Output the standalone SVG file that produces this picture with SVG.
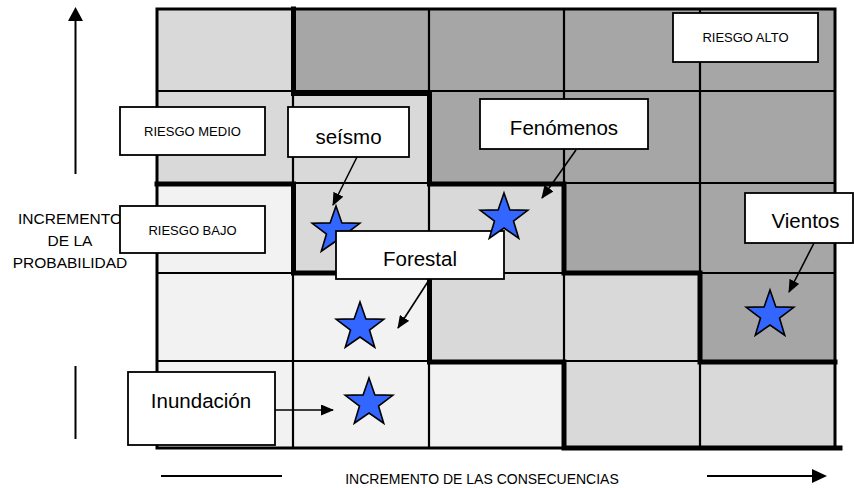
<svg xmlns="http://www.w3.org/2000/svg" xmlns:xlink="http://www.w3.org/1999/xlink" width="854" height="488" viewBox="0 0 854 488">
<style>
.l1{fill:#f2f2f2}.l2{fill:#d9d9d9}.l3{fill:#a6a6a6}
.thin{stroke:#000;stroke-width:2.2;fill:none}
.thick{stroke:#000;stroke-width:5;fill:none;stroke-linecap:square}
.box{fill:#fff;stroke:#000;stroke-width:1.8}
.t{font-family:"Liberation Sans",Arial,sans-serif;fill:#000;text-anchor:middle}
.s{font-size:13px}.b{font-size:20.5px}
.star{fill:#3366ff;stroke:#000;stroke-width:1.6;stroke-linejoin:miter}
.con{stroke:#000;stroke-width:1.6;fill:none}
.axis{stroke:#000;stroke-width:2;fill:none}
</style>
<defs>
<marker id="ah" markerUnits="userSpaceOnUse" markerWidth="13" markerHeight="11" refX="12" refY="5.5" orient="auto">
<path d="M0,0 L13,5.5 L0,11 z" fill="#000"/>
</marker>
<path id="star" d="M0,-25 L5.88,-8.09 L23.78,-7.73 L9.51,3.09 L14.7,20.23 L0,10 L-14.7,20.23 L-9.51,3.09 L-23.78,-7.73 L-5.88,-8.09 z"/>
</defs>
<rect width="854" height="488" fill="#fff"/>
<g id="grid">
<rect class="l2" x="157" y="9" width="136" height="82"/>
<rect class="l3" x="293" y="9" width="542" height="82"/>
<rect class="l2" x="157" y="91" width="272" height="92"/>
<rect class="l3" x="429" y="91" width="406" height="92"/>
<rect class="l1" x="157" y="183" width="136" height="90"/>
<rect class="l2" x="293" y="183" width="271" height="90"/>
<rect class="l3" x="564" y="183" width="271" height="90"/>
<rect class="l1" x="157" y="273" width="272" height="88"/>
<rect class="l2" x="429" y="273" width="271" height="88"/>
<rect class="l3" x="700" y="273" width="135" height="88"/>
<rect class="l1" x="157" y="361" width="407" height="87"/>
<rect class="l2" x="564" y="361" width="271" height="87"/>
<path class="thin" d="M293,9V448M429,9V448M564,9V448M700,9V448M157,91H835M157,183H835M157,273H835M157,361H835"/>
<rect x="157" y="9" width="678" height="439" fill="none" stroke="#000" stroke-width="3"/>
<path class="thick" d="M293.5,9V93.5H429.5V184H564V273H700V362H835"/>
<path class="thick" d="M157,184H293.5V273H429.5V362H564V448H840"/>
</g>
<g id="axes">
<path class="axis" d="M75.5,174V20"/>
<polygon points="68,21 83,21 75.5,7" fill="#000"/>
<path class="axis" d="M75.5,366V439"/>
<path class="axis" d="M161,476H282"/>
<path class="axis" d="M707,476H813"/>
<polygon points="812,469 812,483 827,476" fill="#000"/>
<text class="t" x="70" y="224" style="font-size:15.5px">INCREMENTO</text>
<text class="t" x="70" y="246" style="font-size:15.5px">DE LA</text>
<text class="t" x="70" y="268" style="font-size:15.5px">PROBABILIDAD</text>
<text class="t" x="482" y="484" style="font-size:14px">INCREMENTO DE LAS CONSECUENCIAS</text>
</g>
<g id="riesgo-alto"><rect class="box" x="673" y="13" width="145" height="49"/><text class="t s" x="745.5" y="42">RIESGO ALTO</text></g>
<g id="riesgo-medio"><rect class="box" x="120" y="107" width="145" height="48"/><text class="t s" x="192.5" y="136">RIESGO MEDIO</text></g>
<g id="riesgo-bajo"><rect class="box" x="120" y="206" width="145" height="47"/><text class="t s" x="192.5" y="235">RIESGO BAJO</text></g>
<g id="star-seismo"><use xlink:href="#star" class="star" x="336" y="231"/></g>
<g id="seismo"><rect class="box" x="288" y="107" width="121" height="50"/><text class="t b" x="348.5" y="144">seísmo</text></g>
<g id="fenomenos"><rect class="box" x="480" y="99" width="168" height="50"/><text class="t b" x="564" y="135">Fenómenos</text></g>
<g id="forestal"><rect class="box" x="336" y="231" width="168" height="48"/><text class="t b" x="420" y="266">Forestal</text></g>
<g id="star-fenomenos"><use xlink:href="#star" class="star" x="504" y="218"/></g>
<g id="star-forestal"><use xlink:href="#star" class="star" x="360" y="327"/></g>
<g id="vientos"><rect class="box" x="745" y="193" width="108" height="50"/><text class="t b" x="805.5" y="228">Vientos</text></g>
<g id="star-vientos"><use xlink:href="#star" class="star" x="770" y="315"/></g>
<g id="inundacion"><rect class="box" x="128" y="372" width="147" height="73"/><text class="t b" x="201" y="408">Inundación</text></g>
<g id="star-inundacion"><use xlink:href="#star" class="star" x="369" y="403"/></g>
<g id="connectors">
<line class="con" x1="357" y1="157" x2="333" y2="205" marker-end="url(#ah)"/>
<line class="con" x1="576" y1="150" x2="542" y2="198" marker-end="url(#ah)"/>
<line class="con" x1="429" y1="280" x2="398" y2="328" marker-end="url(#ah)"/>
<line class="con" x1="814" y1="243" x2="789" y2="292" marker-end="url(#ah)"/>
<line class="con" x1="275" y1="410" x2="333" y2="410" marker-end="url(#ah)"/>
</g>
</svg>
